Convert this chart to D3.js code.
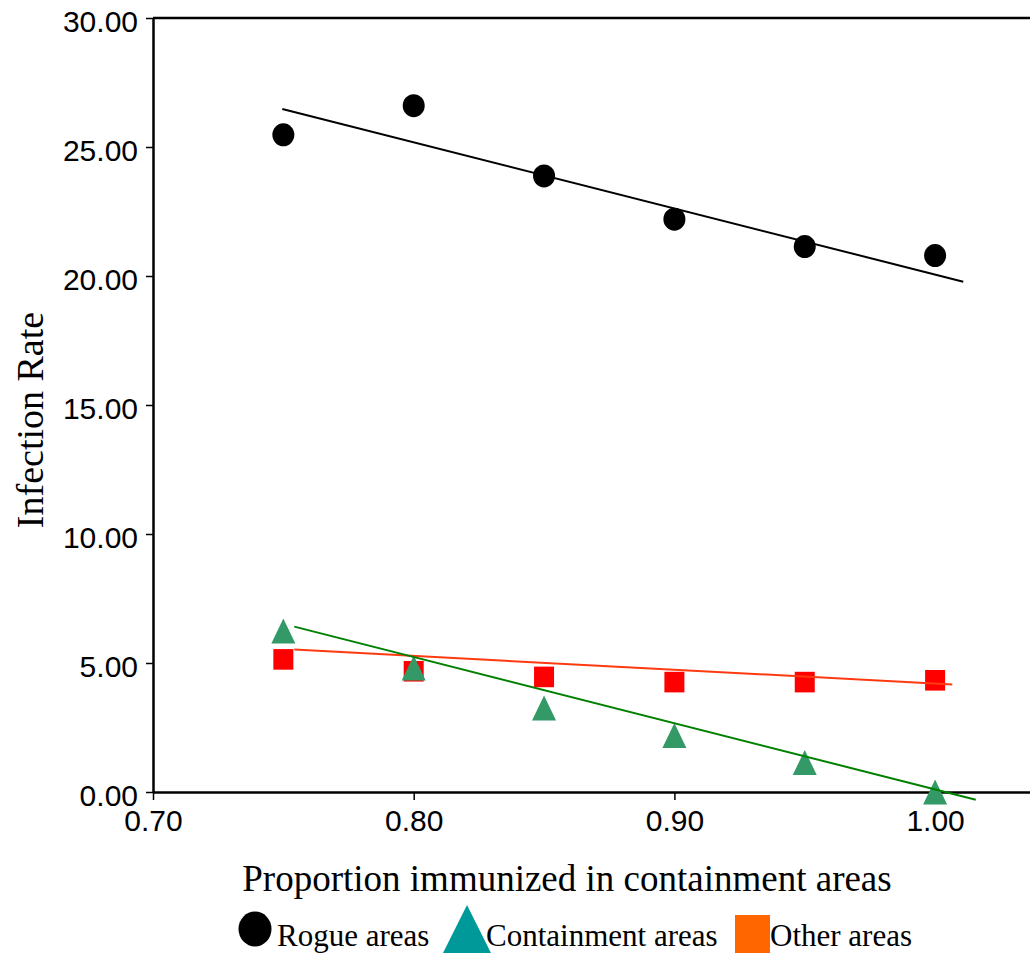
<!DOCTYPE html>
<html>
<head>
<meta charset="utf-8">
<script src="https://cdnjs.cloudflare.com/ajax/libs/d3/7.8.5/d3.min.js"></script>
<style>
    body { margin: 0; background: #fff; }
    .tickLabel text { font-family: "Liberation Sans", Arial, sans-serif; font-size: 30px; fill: #000; }
    .axisTitle, .legendText { font-family: "Liberation Serif", "Times New Roman", serif; fill: #000; }
</style>
</head>
<body>
<div id="chart"></div>
<script>
// proportion immunized in containment areas
var proportions = [0.75, 0.80, 0.85, 0.90, 0.95, 1.00];

// infection rate per area type
var rogueRates       = [25.47, 26.60, 23.88, 22.20, 21.14, 20.79];
var containmentRates = [6.24, 4.81, 3.26, 2.19, 1.14, 0.00];
var otherRates       = [5.14, 4.68, 4.46, 4.26, 4.26, 4.33];

// fitted trend lines, [x, y] end points
var rogueTrend       = [[0.7496, 26.47], [1.0108, 19.78]];
var containmentTrend = [[0.7542, 6.41], [1.0156, -0.30]];
var otherTrend       = [[0.7542, 5.52], [1.0066, 4.17]];

var xTicks = [0.70, 0.80, 0.90, 1.00];
var yTicks = [0, 5, 10, 15, 20, 25, 30];

var seriesNames = ["Rogue areas", "Containment areas", "Other areas"];

/**
 * Constructor for the infection rate chart
 */
function InfectionChart(){
    var self = this;
    self.init();
};

/**
 * Sets up the svg, scales and axes
 */
InfectionChart.prototype.init = function(){
    var self = this;
    self.margin = {top: 18, left: 153};
    self.svgWidth = 1030;
    self.svgHeight = 955;

    self.svg = d3.select("#chart").append("svg")
        .attr("width", self.svgWidth)
        .attr("height", self.svgHeight)
        .style("display", "block");

    // 0.1 on x is about 260.7px, the frame runs off the right side
    self.xScale = d3.scaleLinear().domain([0.70, 1.04]).range([self.margin.left, self.margin.left + 2607 * 0.34]);
    self.yScale = d3.scaleLinear().domain([0, 30]).range([792, self.margin.top]);

    var fmt = d3.format(".2f");

    //top border of the plot box
    self.svg.append("line")
        .attr("x1", self.xScale(0.70)).attr("x2", self.xScale(1.04))
        .attr("y1", self.yScale(30)).attr("y2", self.yScale(30))
        .style("stroke", "#000").style("stroke-width", 2.5);

    var xAxis = d3.axisBottom(self.xScale)
        .tickValues(xTicks).tickFormat(fmt)
        .tickSize(8).tickSizeOuter(0).tickPadding(10);
    var gx = self.svg.append("g").attr("class", "tickLabel")
        .attr("transform", "translate(0," + self.yScale(0) + ")")
        .call(xAxis);

    var yAxis = d3.axisLeft(self.yScale)
        .tickValues(yTicks).tickFormat(fmt)
        .tickSize(7).tickSizeOuter(0).tickPadding(8);
    var gy = self.svg.append("g").attr("class", "tickLabel")
        .attr("transform", "translate(" + self.xScale(0.70) + ",0)")
        .call(yAxis);
    gy.selectAll("text").attr("dy", "0.45em");

    [gx, gy].forEach(function(g){
        g.attr("font-family", null).attr("font-size", null);
        g.select(".domain").style("stroke", "#000").style("stroke-width", 2.5);
        g.selectAll(".tick line").style("stroke", "#000").style("stroke-width", 1.5);
    });

    self.svg.append("text")
        .attr("class", "axisTitle")
        .attr("x", 567).attr("y", 891)
        .attr("text-anchor", "middle")
        .style("font-size", "37px")
        .text("Proportion immunized in containment areas");

    self.svg.append("text")
        .attr("class", "axisTitle")
        .attr("transform", "translate(43,420) rotate(-90)")
        .attr("text-anchor", "middle")
        .style("font-size", "38px")
        .text("Infection Rate");
};

/**
 * Draws a fitted line between two points
 */
InfectionChart.prototype.trend = function(ends, color){
    var self = this;
    var line = d3.line()
        .x(function(d){ return self.xScale(d[0]); })
        .y(function(d){ return self.yScale(d[1]); });
    self.svg.append("path")
        .datum(ends)
        .attr("d", line)
        .style("fill", "none")
        .style("stroke", color)
        .style("stroke-width", 2);
};

/**
 * Triangle path centred on (cx, cy)
 */
function trianglePath(cx, cy, w, h){
    return "M" + cx + "," + (cy - h / 2) + "L" + (cx + w / 2) + "," + (cy + h / 2) + "L" + (cx - w / 2) + "," + (cy + h / 2) + "Z";
}

/**
 * Draws the markers, trend lines and the legend
 */
InfectionChart.prototype.update = function(){
    var self = this;
    var x = self.xScale, y = self.yScale;

    var rogue = proportions.map(function(p, i){ return {x: p, y: rogueRates[i]}; });
    var containment = proportions.map(function(p, i){ return {x: p, y: containmentRates[i]}; });
    var other = proportions.map(function(p, i){ return {x: p, y: otherRates[i]}; });

    self.trend(rogueTrend, "#000");

    self.svg.selectAll(".rogue").data(rogue).enter()
        .append("ellipse").attr("class", "rogue")
        .attr("cx", function(d){ return x(d.x); })
        .attr("cy", function(d){ return y(d.y); })
        .attr("rx", 11).attr("ry", 11.5)
        .style("fill", "#000");

    self.svg.selectAll(".other").data(other).enter()
        .append("rect").attr("class", "other")
        .attr("x", function(d){ return x(d.x) - 10; })
        .attr("y", function(d){ return y(d.y) - 10.3; })
        .attr("width", 20).attr("height", 20.6)
        .style("fill", "#ff0000");

    self.svg.selectAll(".containment").data(containment).enter()
        .append("path").attr("class", "containment")
        .attr("d", function(d){ return trianglePath(x(d.x), y(d.y), 24, 25); })
        .style("fill", "#339966");

    self.trend(otherTrend, "#ff3a10");
    self.trend(containmentTrend, "#008000");

    //legend row under the axis title
    var legend = self.svg.append("g").attr("class", "legend");
    legend.append("ellipse")
        .attr("cx", 255).attr("cy", 929).attr("rx", 16.5).attr("ry", 17.5)
        .style("fill", "#000");
    legend.append("path")
        .attr("d", trianglePath(467, 929, 48, 48))
        .style("fill", "#009999");
    legend.append("rect")
        .attr("x", 735).attr("y", 915).attr("width", 35).attr("height", 38)
        .style("fill", "#ff6600");

    var textX = [277, 486, 770];
    legend.selectAll(".legendText").data(seriesNames).enter()
        .append("text").attr("class", "legendText")
        .attr("x", function(d, i){ return textX[i]; })
        .attr("y", 946)
        .style("font-size", "31px")
        .text(function(d){ return d; });
};

var chart = new InfectionChart();
chart.update();
</script>
</body>
</html>
